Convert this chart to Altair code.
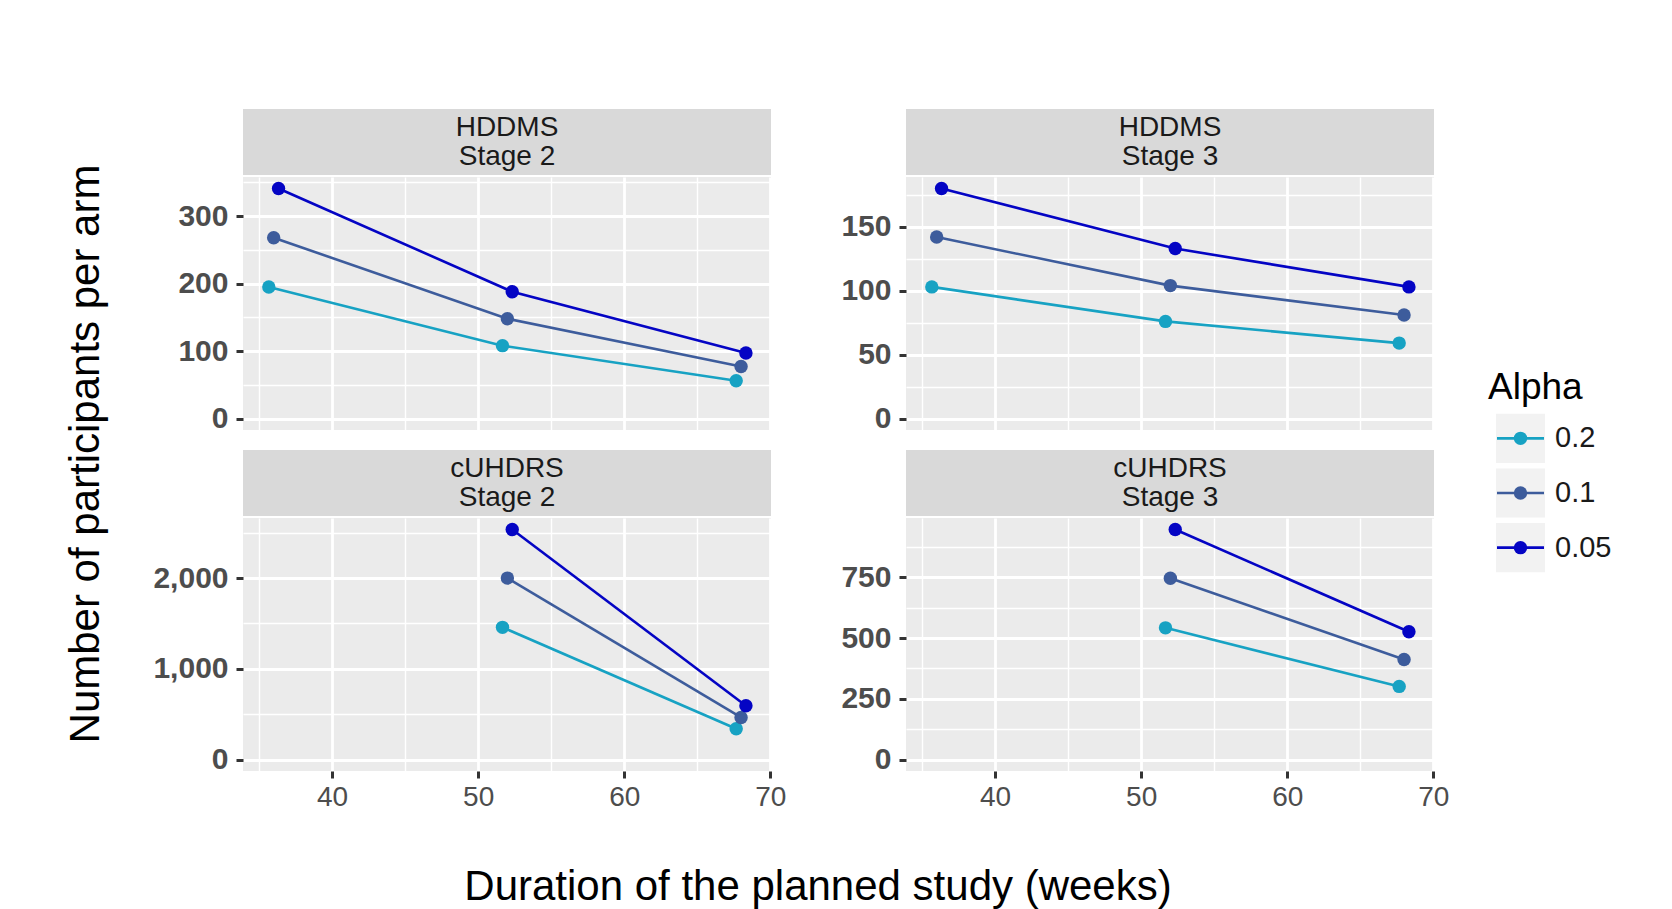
import altair as alt
import pandas as pd

FONT = "Liberation Sans"

# ---------------- data ----------------
measures = ["HDDMS", "HDDMS", "cUHDRS", "cUHDRS"]
stages = ["Stage 2", "Stage 3", "Stage 2", "Stage 3"]
alphas = ["0.2", "0.1", "0.05"]
colors = ["#17a2c3", "#3d5c9c", "#0404c4"]
dodge = [-1 / 3, 0, 1 / 3]

dur_hddms = [36, 52, 68]
dur_cuhdrs = [52, 68]

hddms_s2_a20 = [195, 108, 56]
hddms_s2_a10 = [268, 148, 77]
hddms_s2_a05 = [341, 188, 97]

hddms_s3_a20 = [103, 76, 59]
hddms_s3_a10 = [142, 104, 81]
hddms_s3_a05 = [180, 133, 103]

cuhdrs_s2_a20 = [1457, 339]
cuhdrs_s2_a10 = [2000, 464]
cuhdrs_s2_a05 = [2536, 593]

cuhdrs_s3_a20 = [542, 301]
cuhdrs_s3_a10 = [746, 412]
cuhdrs_s3_a05 = [947, 526]

x_values = [35, 40, 45, 50, 55, 60, 65, 70]

y_title = "Number of participants per arm"
x_title = "Duration of the planned study (weeks)"
legend_title = "Alpha"

W, H = 528, 253
X_DOMAIN = [33.9, 70.05]


def cond(test, a, b):
    return {"condition": {"test": test, "value": a}, "value": b}


def panel(i, durations, series, major, comma, show_x):
    rows = []
    for a, off, vals in zip(alphas, dodge, series):
        for d, v in zip(durations, vals):
            rows.append({"alpha": a, "duration": d, "x": d + off, "n": v})
    df = pd.DataFrame(rows)
    vmax = df["n"].max()
    ydom = [-0.05 * vmax, 1.05 * vmax]
    minor = major // 2
    yvals = list(range(0, int(ydom[1]) + 1, minor))
    test_y = f"datum.value % {major} === 0"
    if comma:
        lab = (f"{test_y} ? (datum.value === 0 ? '0' : format(datum.value, ',') + '\u00a0\u00a0') : ''")
    else:
        lab = f"{test_y} ? datum.label : ''"
    yaxis = alt.Axis(
        values=yvals, title=None, domain=False, labelExpr=lab,
        labelFont=FONT, labelFontSize=30, labelFontWeight="bold",
        labelColor="#4d4d4d", labelPadding=8, labelFlush=False,
        tickSize=7, tickWidth=3, tickColor="#333333",
        tickOpacity=cond(test_y, 1, 0),
        gridColor="white", gridWidth=cond(test_y, 2.8, 1.4), gridOpacity=1,
    )
    test_x = "datum.value % 10 === 0"
    xaxis = alt.Axis(
        values=x_values, title=None, domain=False,
        labels=show_x, ticks=show_x,
        labelExpr=f"{test_x} ? datum.label : ''",
        labelFont=FONT, labelFontSize=28, labelColor="#4d4d4d", labelPadding=5,
        labelFlush=False,
        tickSize=7, tickWidth=3, tickColor="#333333",
        tickOpacity=cond(test_x, 1, 0),
        gridColor="white", gridWidth=cond(test_x, 2.8, 1.4), gridOpacity=1,
    )
    xenc = alt.X("x:Q", scale=alt.Scale(domain=X_DOMAIN, nice=False, zero=False), axis=xaxis)
    yenc = alt.Y("n:Q", scale=alt.Scale(domain=ydom, nice=False, zero=False), axis=yaxis)
    cenc = alt.Color("alpha:N", scale=alt.Scale(domain=alphas, range=colors), legend=None)

    base = alt.Chart(df).encode(x=xenc, y=yenc, color=cenc)
    line = base.mark_line(strokeWidth=2.6)
    pts = base.mark_circle(size=180, opacity=1)

    sdf = pd.DataFrame({"label": [f"{measures[i]}\n{stages[i]}"]})
    srect = alt.Chart(sdf).mark_rect(fill="#d9d9d9").encode(
        x=alt.value(0), x2=alt.value(W), y=alt.value(-68), y2=alt.value(-2))
    stext = alt.Chart(sdf).mark_text(
        lineBreak="\n", font=FONT, fontSize=28, color="#1a1a1a",
        align="center", baseline="middle", lineHeight=29,
    ).encode(x=alt.value(W / 2), y=alt.value(-49), text="label:N")

    return alt.layer(srect, stext, line, pts).properties(
        width=W, height=H, view=alt.ViewBackground(fill="#ebebeb", stroke=None))


p1 = panel(0, dur_hddms, [hddms_s2_a20, hddms_s2_a10, hddms_s2_a05], 100, False, False)
p2 = panel(1, dur_hddms, [hddms_s3_a20, hddms_s3_a10, hddms_s3_a05], 50, False, False)
p3 = panel(2, dur_cuhdrs, [cuhdrs_s2_a20, cuhdrs_s2_a10, cuhdrs_s2_a05], 1000, True, True)
p4 = panel(3, dur_cuhdrs, [cuhdrs_s3_a20, cuhdrs_s3_a10, cuhdrs_s3_a05], 250, False, True)

# y title
yt = alt.Chart(pd.DataFrame({"t": [y_title]})).mark_text(
    angle=270, font=FONT, fontSize=42, align="center", baseline="middle", color="black"
).encode(x=alt.value(0), y=alt.value(277), text="t:N").properties(
    width=1, height=1, view=alt.ViewBackground(fill=None, stroke=None))

# x title
xt = alt.Chart(pd.DataFrame({"t": [x_title]})).mark_text(
    font=FONT, fontSize=42, align="center", baseline="middle", color="black"
).encode(x=alt.value(732), y=alt.value(0), text="t:N").properties(
    width=1, height=1, view=alt.ViewBackground(fill=None, stroke=None))

# legend
ldf = pd.DataFrame({"alpha": alphas})
lyenc = alt.Y("alpha:N", sort=alphas,
              scale=alt.Scale(domain=alphas, range=[234, 398], paddingInner=0.1, paddingOuter=0.05),
              axis=None)
lcenc = alt.Color("alpha:N", scale=alt.Scale(domain=alphas, range=colors), legend=None)
lbase = alt.Chart(ldf)
lrect = lbase.mark_rect(fill="#f2f2f2").encode(x=alt.value(0), x2=alt.value(49), y=lyenc)
lrule = lbase.mark_rule(strokeWidth=2.6).encode(x=alt.value(1), x2=alt.value(48), y=lyenc, color=lcenc)
lpt = lbase.mark_circle(size=180, opacity=1).encode(x=alt.value(24.5), y=lyenc, color=lcenc)
ltxt = lbase.mark_text(font=FONT, fontSize=29, align="left", baseline="middle", color="#1a1a1a").encode(
    x=alt.value(59), y=lyenc, text="alpha:N")
ltitle = alt.Chart(pd.DataFrame({"t": [legend_title]})).mark_text(
    font=FONT, fontSize=37, align="left", baseline="middle", color="black"
).encode(x=alt.value(-8), y=alt.value(211), text="t:N")
legend = alt.layer(lrect, lrule, lpt, ltxt, ltitle).properties(
    width=49, height=400, view=alt.ViewBackground(fill=None, stroke=None))

col1 = alt.vconcat(p1, p3, spacing=16)
col2 = alt.vconcat(p2, p4, spacing=16)
inner = alt.hconcat(yt, col1, spacing=44)
mid = alt.hconcat(inner, col2, spacing=54)
top = alt.hconcat(mid, legend, spacing=39)
chart = alt.vconcat(top, xt, spacing=55).properties(
    padding={"left": 56, "top": 101, "right": 5, "bottom": 5}
).configure_view(stroke=None).configure(background="white")

chart.save("out.html", embed_options={"renderer": "svg", "actions": False})
